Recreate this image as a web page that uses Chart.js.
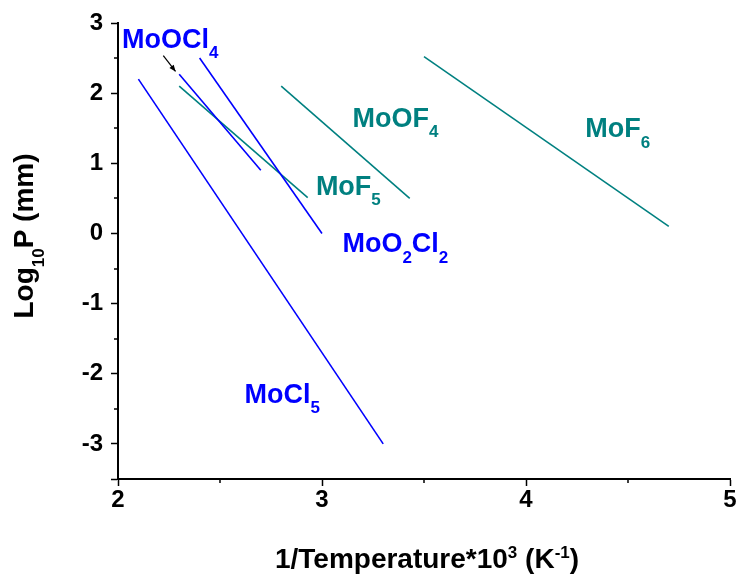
<!DOCTYPE html>
<html>
<head>
<meta charset="utf-8">
<script src="https://cdn.jsdelivr.net/npm/chart.js@4.4.0/dist/chart.umd.min.js"></script>
<style>
  html, body { margin: 0; padding: 0; background: #fff; }
</style>
</head>
<body>
<canvas id="c" width="737" height="574"></canvas>
<script>
// values: x = 1000/T (K^-1), y = log10 P (mm)
const moCl5X = [2.1, 3.3],    moCl5Y = [2.2, -3.0];
const moOCl4X = [2.3, 2.7],   moOCl4Y = [2.27, 0.9];
const moO2Cl2X = [2.4, 3.0],  moO2Cl2Y = [2.5, 0.0];
const moF5X = [2.3, 2.93],    moF5Y = [2.1, 0.51];
const moOF4X = [2.8, 3.43],   moOF4Y = [2.1, 0.5];
const moF6X = [3.5, 4.7],     moF6Y = [2.52, 0.1];

const xTicks = [2, 3, 4, 5];
const yTicks = [-3, -2, -1, 0, 1, 2, 3];

const BLUE = '#0000ff';
const TEAL = '#008080';
const FONT = '"Liberation Sans", Arial, sans-serif';

function pts(xs, ys) {
  return xs.map((x, i) => ({ x: x, y: ys[i] }));
}

function line(label, xs, ys, color) {
  return {
    label: label,
    data: pts(xs, ys),
    borderColor: color,
    borderWidth: 1.6,
    pointRadius: 0,
    fill: false,
    tension: 0
  };
}

// label text, placed in data units (left edge, baseline)
const labels = [
  { x: 2.02, y: 2.65, color: BLUE, parts: [['MoOCl', 0], ['4', -1]] },
  { x: 3.15, y: 1.52, color: TEAL, parts: [['MoOF', 0], ['4', -1]] },
  { x: 4.29, y: 1.37, color: TEAL, parts: [['MoF', 0], ['6', -1]] },
  { x: 2.97, y: 0.55, color: TEAL, parts: [['MoF', 0], ['5', -1]] },
  { x: 3.10, y: -0.27, color: BLUE, parts: [['MoO', 0], ['2', -1], ['Cl', 0], ['2', -1]] },
  { x: 2.62, y: -2.41, color: BLUE, parts: [['MoCl', 0], ['5', -1]] }
];

// draw text with sub/superscripts, returns width
function drawRich(ctx, parts, x, y, size, align) {
  let w = 0;
  const small = Math.round(size * 0.62);
  parts.forEach(p => {
    ctx.font = 'bold ' + (p[1] ? small : size) + 'px ' + FONT;
    w += ctx.measureText(p[0]).width;
  });
  let cx = align === 'center' ? x - w / 2 : x;
  ctx.textAlign = 'left';
  ctx.textBaseline = 'alphabetic';
  parts.forEach(p => {
    ctx.font = 'bold ' + (p[1] ? small : size) + 'px ' + FONT;
    let dy = 0;
    if (p[1] === -1) dy = size * 0.38;
    if (p[1] === 1) dy = -size * 0.36;
    ctx.fillText(p[0], cx, y + dy);
    cx += ctx.measureText(p[0]).width;
  });
  return w;
}

const decorations = {
  id: 'decorations',
  afterDraw(chart) {
    const ctx = chart.ctx;
    const xs = chart.scales.x, ys = chart.scales.y;
    const area = chart.chartArea;
    ctx.save();

    // minor ticks
    ctx.strokeStyle = '#000';
    ctx.lineWidth = 1.5;
    ctx.beginPath();
    for (let i = 0; i < xTicks.length - 1; i++) {
      const px = Math.round(xs.getPixelForValue(xTicks[i] + 0.5));
      ctx.moveTo(px, area.bottom);
      ctx.lineTo(px, area.bottom + 4);
    }
    for (let i = 0; i < yTicks.length - 1; i++) {
      const py = Math.round(ys.getPixelForValue(yTicks[i] + 0.5));
      ctx.moveTo(area.left, py);
      ctx.lineTo(area.left - 4, py);
    }
    ctx.stroke();

    // series labels
    labels.forEach(l => {
      ctx.fillStyle = l.color;
      drawRich(ctx, l.parts, xs.getPixelForValue(l.x), ys.getPixelForValue(l.y), 27, 'left');
    });

    // arrow pointing at MoOCl4 line
    const ax0 = xs.getPixelForValue(2.222), ay0 = ys.getPixelForValue(2.535);
    const ax1 = xs.getPixelForValue(2.282), ay1 = ys.getPixelForValue(2.31);
    ctx.strokeStyle = '#000';
    ctx.fillStyle = '#000';
    ctx.lineWidth = 1.2;
    ctx.beginPath();
    ctx.moveTo(ax0, ay0);
    ctx.lineTo(ax1, ay1);
    ctx.stroke();
    const ang = Math.atan2(ay1 - ay0, ax1 - ax0);
    ctx.beginPath();
    ctx.moveTo(ax1, ay1);
    ctx.lineTo(ax1 - 7 * Math.cos(ang - 0.4), ay1 - 7 * Math.sin(ang - 0.4));
    ctx.lineTo(ax1 - 7 * Math.cos(ang + 0.4), ay1 - 7 * Math.sin(ang + 0.4));
    ctx.closePath();
    ctx.fill();

    // axis titles
    ctx.fillStyle = '#000';
    drawRich(ctx, [['1/Temperature*10', 0], ['3', 1], [' (K', 0], ['-1', 1], [')', 0]],
      (area.left + area.right) / 2 + 3, 568, 28, 'center');
    ctx.translate(33, 236);
    ctx.rotate(-Math.PI / 2);
    drawRich(ctx, [['Log', 0], ['10', -1], ['P (mm)', 0]], 0, 0, 28, 'center');
    ctx.restore();
  }
};

new Chart(document.getElementById('c'), {
  type: 'line',
  data: {
    datasets: [
      line('MoCl5', moCl5X, moCl5Y, BLUE),
      line('MoOCl4', moOCl4X, moOCl4Y, BLUE),
      line('MoO2Cl2', moO2Cl2X, moO2Cl2Y, BLUE),
      line('MoF5', moF5X, moF5Y, TEAL),
      line('MoOF4', moOF4X, moOF4Y, TEAL),
      line('MoF6', moF6X, moF6Y, TEAL)
    ]
  },
  options: {
    responsive: false,
    animation: false,
    layout: { padding: { left: 0, top: 23, right: 7, bottom: 0 } },
    plugins: {
      legend: { display: false },
      tooltip: { enabled: false }
    },
    scales: {
      x: {
        type: 'linear',
        min: 2,
        max: 5,
        afterFit(s) { s.height = 95; },
        afterBuildTicks(s) { s.ticks = xTicks.map(v => ({ value: v })); },
        ticks: {
          color: '#000',
          font: { family: FONT, size: 24, weight: 'bold' },
          padding: 0,
          maxRotation: 0
        },
        grid: { drawOnChartArea: false, tickLength: 7, tickColor: '#000', tickWidth: 1.5 },
        border: { color: '#000', width: 2 }
      },
      y: {
        type: 'linear',
        min: -3.5,
        max: 3,
        afterFit(s) { s.width = 118; },
        afterBuildTicks(s) { s.ticks = [{ value: -3.5 }].concat(yTicks.map(v => ({ value: v }))); },
        ticks: {
          color: '#000',
          font: { family: FONT, size: 24, weight: 'bold' },
          padding: 8,
          callback: v => Number.isInteger(v) ? String(v) : ''
        },
        grid: { drawOnChartArea: false, tickLength: 7, tickColor: '#000', tickWidth: 1.5 },
        border: { color: '#000', width: 2 }
      }
    }
  },
  plugins: [decorations]
});
</script>
</body>
</html>
